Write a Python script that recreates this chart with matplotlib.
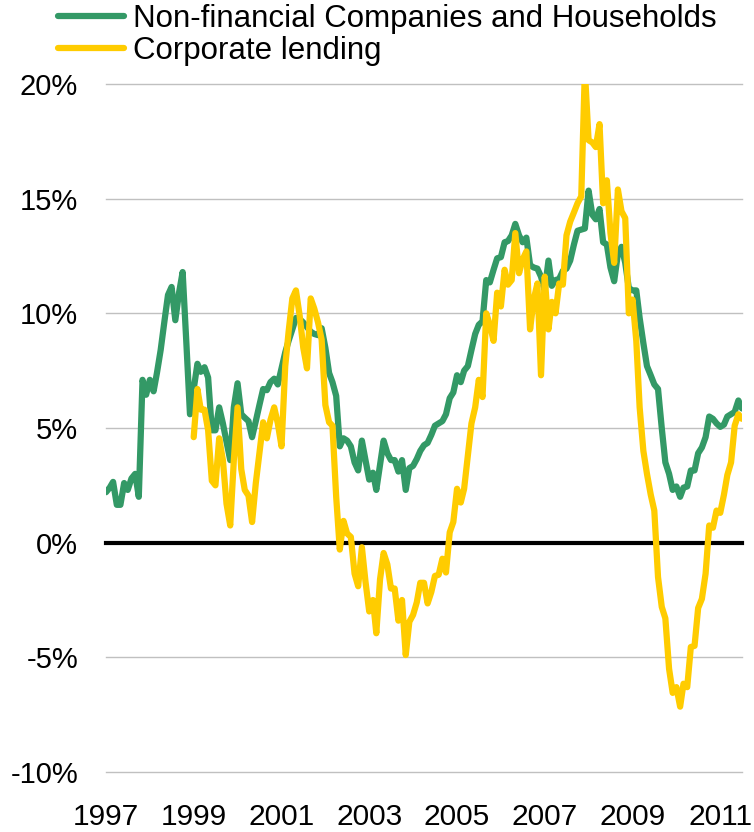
import numpy as np
import pandas as pd
import matplotlib
matplotlib.use("Agg")
import matplotlib.pyplot as plt
import matplotlib.dates as mdates

plt.rcParams['font.family'] = ['Liberation Sans', 'DejaVu Sans']

dates = pd.date_range('1997-01-01', periods=175, freq='MS')

nonfin = [2.2, 2.4, 2.65, 1.65, 1.65, 2.6, 2.3, 2.8, 3.0, 2.0,
          7.1, 6.45, 7.1, 6.6, 7.4, 8.4, 9.6, 10.8, 11.15, 9.7,
          10.9, 11.8, 8.7, 5.6, 6.7, 7.8, 7.45, 7.65, 7.2, 4.9,
          4.9, 5.9, 5.2, 4.4, 3.6, 5.9, 6.95, 5.6, 5.45, 5.3,
          4.6, 5.3, 6.0, 6.7, 6.65, 7.0, 7.15, 6.9, 7.6, 8.3,
          8.8, 9.3, 9.8, 9.75, 9.6, 9.4, 9.2, 9.1, 9.05, 9.35,
          8.5, 7.4, 7.0, 6.4, 4.2, 4.55, 4.45, 4.2, 3.5, 3.15,
          4.45, 3.6, 2.75, 3.05, 2.3, 3.4, 4.45, 3.9, 3.6, 3.6,
          3.1, 3.6, 2.3, 3.25, 3.35, 3.65, 4.0, 4.25, 4.35, 4.7,
          5.1, 5.2, 5.3, 5.6, 6.3, 6.55, 7.3, 7.0, 7.5, 7.7,
          8.4, 9.1, 9.5, 9.65, 11.45, 11.35, 11.9, 12.4, 12.45, 13.1,
          13.15, 13.4, 13.9, 13.4, 13.1, 13.3, 12.1, 12.0, 11.95, 11.6,
          11.0, 12.3, 11.2, 11.45, 11.5, 11.85, 11.95, 12.3, 13.0, 13.6,
          13.65, 13.7, 15.35, 14.3, 14.1, 14.55, 13.1, 13.0, 12.0, 11.4,
          12.6, 12.9, 12.2, 11.1, 11.0, 11.0, 9.8, 8.7, 7.7, 7.3,
          6.9, 6.7, 5.0, 3.5, 3.0, 2.3, 2.45, 2.0, 2.4, 2.45,
          3.15, 3.15, 3.9, 4.15, 4.6, 5.5, 5.4, 5.2, 5.05, 5.15,
          5.5, 5.6, 5.7, 6.2, 5.85]

corporate = [np.nan] * 24 + [
    4.6, 6.7, 5.8, 5.8, 4.9, 2.7, 2.5, 4.55, 3.6, 1.7,
    0.75, 3.6, 5.9, 3.2, 2.3, 2.05, 0.9, 2.6, 3.9, 5.25,
    4.55, 5.35, 5.9, 5.2, 4.2, 7.7, 9.2, 10.65, 11.0, 9.9,
    8.5, 7.6, 10.65, 10.2, 9.6, 8.85, 6.0, 5.25, 5.1, 2.0,
    -0.3, 0.95, 0.4, 0.25, -1.35, -1.9, -0.2, -1.7, -3.0, -2.5,
    -3.95, -1.6, -0.45, -0.95, -2.0, -2.0, -3.4, -2.5, -4.9, -3.45,
    -3.15, -2.6, -1.75, -1.75, -2.65, -2.15, -1.45, -1.4, -0.7, -1.3,
    0.45, 0.9, 2.35, 1.75, 2.35, 3.8, 5.2, 5.9, 7.1, 6.35,
    10.0, 9.5, 8.8, 10.9, 10.3, 11.9, 11.25, 11.45, 13.5, 11.75,
    12.35, 12.7, 9.3, 10.6, 11.3, 7.3, 11.6, 9.3, 10.5, 10.0,
    11.3, 11.25, 13.4, 14.0, 14.4, 14.8, 15.1, 20.6, 17.55, 17.45,
    17.25, 18.25, 14.8, 15.8, 13.5, 12.2, 15.4, 14.45, 14.15, 10.0,
    10.6, 8.8, 5.9, 4.0, 3.0, 2.1, 1.4, -1.5, -2.8, -3.3,
    -5.5, -6.55, -6.3, -7.15, -6.15, -6.3, -4.55, -4.5, -2.85, -2.45,
    -1.35, 0.75, 0.65, 1.4, 1.3, 2.1, 2.95, 3.5, 5.1, 5.6, 5.4]

series_labels = ['Non-financial Companies and Households', 'Corporate lending']
y_ticks = [-10, -5, 0, 5, 10, 15, 20]
x_tick_years = [1997, 1999, 2001, 2003, 2005, 2007, 2009, 2011]

GREEN = '#339966'
YELLOW = '#FFCC00'

fig = plt.figure(figsize=(7.54, 8.32), dpi=100)
ax = fig.add_axes([106/754, 1 - 772/832, 636/754, 688/832])

for yv in y_ticks:
    if yv != 0:
        ax.axhline(yv, color='#c0c0c0', lw=1.0, zorder=1, clip_on=False)
ax.axhline(0, color='black', lw=3.0, zorder=2, clip_on=False)

ax.plot(dates, nonfin, color=GREEN, lw=4.5, solid_joinstyle='round',
        solid_capstyle='round', zorder=3, label=series_labels[0])
ax.plot(dates, corporate, color=YELLOW, lw=4.5, solid_joinstyle='round',
        solid_capstyle='round', zorder=4, label=series_labels[1])

ax.set_ylim(-10, 20)
ax.set_xlim(dates[0], dates[-1])
ax.set_yticks(y_ticks)
ax.set_yticklabels([f'{v}%' for v in y_ticks])
ax.set_xticks([pd.Timestamp(f'{y}-01-01') for y in x_tick_years])
ax.set_xticklabels([str(y) for y in x_tick_years])
ax.tick_params(axis='y', length=0, pad=20, labelsize=21)
ax.tick_params(axis='x', length=0, pad=22, labelsize=21.5)
for s in ax.spines.values():
    s.set_visible(False)

leg = fig.legend(loc='upper left', bbox_to_anchor=(58/754, 1 - 4/832),
                 frameon=False, fontsize=22.5, handlelength=2.1,
                 handletextpad=0.3, labelspacing=0.05, borderpad=0,
                 borderaxespad=0)

fig.savefig('out.png', dpi=100)
